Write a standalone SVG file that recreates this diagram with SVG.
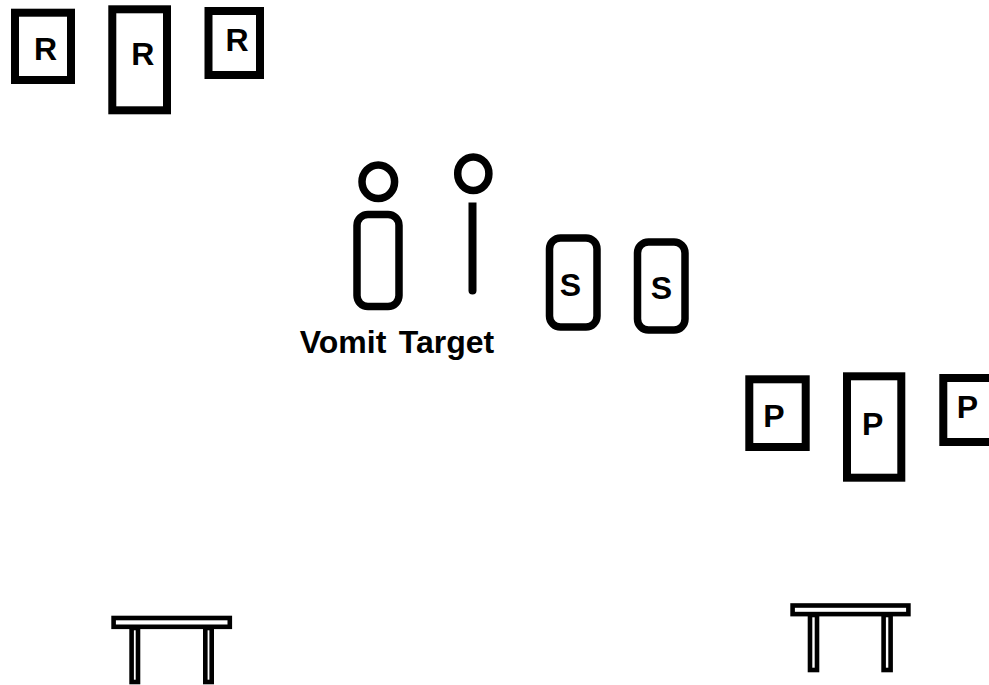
<svg xmlns="http://www.w3.org/2000/svg" width="989" height="685" viewBox="0 0 989 685">
<style>
.box{fill:#fff;stroke:#000;stroke-width:8}
.rnd{fill:#fff;stroke:#000;stroke-width:7.5}
.tb{fill:#fff;stroke:#000;stroke-width:4.6}
.lb{font-family:"Liberation Sans",Arial,sans-serif;font-weight:700;font-size:32px;fill:#000;text-anchor:middle}
</style>
<rect width="989" height="685" fill="#fff"/>
<g id="r1"><rect class="box" x="15" y="12.7" width="56" height="67.3"/><text class="lb" x="45.5" y="60">R</text></g>
<g id="r2"><rect class="box" x="112.3" y="9.3" width="54.7" height="101"/><text class="lb" x="142.8" y="65">R</text></g>
<g id="r3"><rect class="box" x="208.5" y="11" width="51.5" height="64"/><text class="lb" x="237" y="50.7">R</text></g>
<g id="vomit-target">
<ellipse class="rnd" cx="378.3" cy="181.7" rx="16.3" ry="16.8"/>
<rect class="rnd" x="357" y="214.5" width="42" height="92" rx="11" ry="11"/>
<text class="lb" x="397" y="352.7" word-spacing="3.5">Vomit Target</text>
</g>
<g id="figure">
<ellipse class="rnd" cx="473.3" cy="173.7" rx="15.6" ry="16.8"/>
<path d="M468.5 202.5H476.5V290.5A4 4 0 0 1 468.5 290.5Z" fill="#000"/>
</g>
<g id="s1"><rect class="rnd" x="549.5" y="238" width="47.5" height="89" rx="11" ry="11"/><text class="lb" x="570.3" y="295.5">S</text></g>
<g id="s2"><rect class="rnd" x="637.5" y="242" width="47.5" height="88" rx="11" ry="11"/><text class="lb" x="661.3" y="298.7">S</text></g>
<g id="p1"><rect class="box" x="749.3" y="379.3" width="56.4" height="67.7"/><text class="lb" x="774" y="427">P</text></g>
<g id="p2"><rect class="box" x="847" y="376.3" width="54.3" height="101.4"/><text class="lb" x="872.7" y="435.3">P</text></g>
<g id="p3"><rect class="box" x="943.3" y="378" width="60" height="64"/><text class="lb" x="967.3" y="417.7">P</text></g>
<g id="table1">
<rect class="tb" x="131.6" y="628" width="6.4" height="54"/>
<rect class="tb" x="205.3" y="628" width="6.4" height="54"/>
<rect class="tb" x="113.6" y="618" width="116.2" height="8.8"/>
</g>
<g id="table2">
<rect class="tb" x="810" y="615" width="7" height="55"/>
<rect class="tb" x="883.6" y="615" width="7" height="55"/>
<rect class="tb" x="792.6" y="605.5" width="115.8" height="8.6"/>
</g>
</svg>
